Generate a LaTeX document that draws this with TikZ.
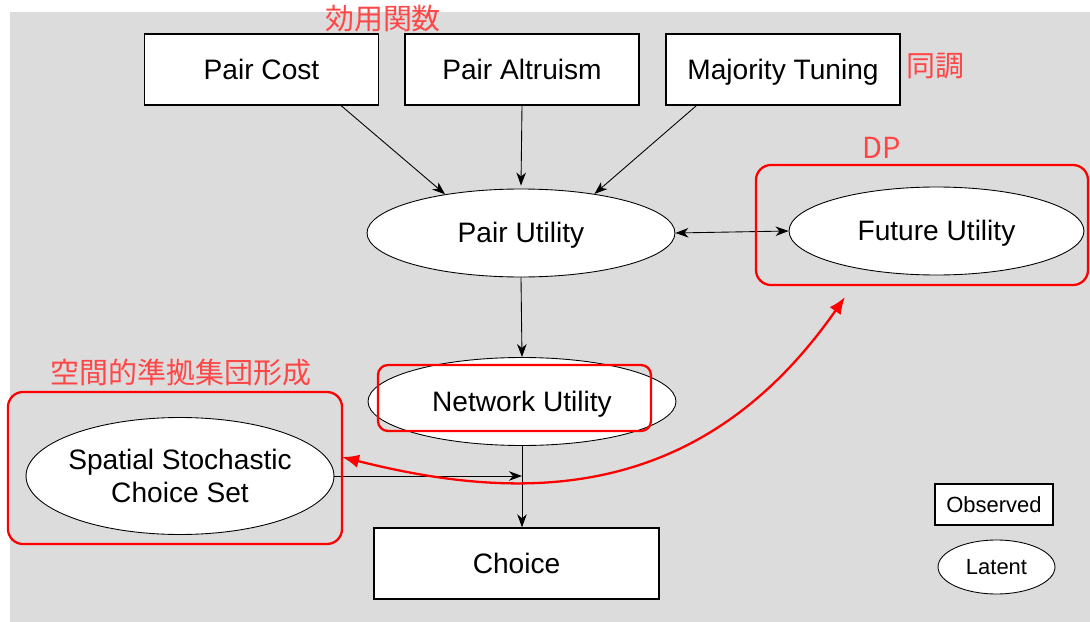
\documentclass[tikz,border=0pt]{standalone}
\usepackage{fontspec}
\setmainfont{Liberation Sans}
\newfontfamily\cjk{Noto Sans CJK JP}
\usetikzlibrary{shapes.geometric,arrows.meta}
\definecolor{bggray}{RGB}{220,220,220}
\definecolor{notered}{RGB}{255,70,70}

\begin{document}
\begin{tikzpicture}[x=0.02cm,y=-0.02cm,
        bigtext/.style={font=\fontsize{16}{19}\selectfont, text height=14.5pt, text depth=3.4pt},
        smalltext/.style={font=\fontsize{12.5}{15}\selectfont, text height=11.3pt, text depth=2.6pt},
        obsbox/.style={draw, fill=white, line width=0.8pt, inner sep=0pt,
            minimum width=4.68cm, minimum height=1.42cm, bigtext},
        latentnode/.style={draw, fill=white, ellipse, line width=0.5pt, inner sep=0pt,
            minimum width=6.16cm, minimum height=1.76cm, bigtext},
        redbox/.style={draw=red, line width=1.3pt, rounded corners=0.3cm},
        redlabel/.style={text=notered, font=\cjk\fontsize{16.5}{20}\selectfont},
        link/.style={-{Stealth[length=0.26cm,width=0.19cm,inset=0.08cm]}, line width=0.5pt},
        redlink/.style={{Latex[length=0.34cm,width=0.27cm]}-{Latex[length=0.34cm,width=0.27cm]}, draw=red, line width=1.3pt}
    ]
        \useasboundingbox (0,0) rectangle (1090,622);
        % grey background
        \fill[bggray] (10,12) rectangle (1090,622);

        % observed inputs
        \node[obsbox] (paircost) at (261.5,69.5) {Pair Cost};
        \node[obsbox] (pairaltruism) at (522,69.5) {Pair Altruism};
        \node[obsbox] (majoritytuning) at (783,69.5) {Majority Tuning};

        % latent utilities
        \node[latentnode] (pairutility) at (521,233) {Pair Utility};
        \node[latentnode, minimum width=5.9cm] (futureutility) at (936.5,231) {Future Utility};
        \node[latentnode] (networkutility) at (522,401.5) {Network Utility};
        \node[latentnode, minimum height=2.34cm, inner xsep=-0.07cm, align=center,
            text height=, text depth=] (spatialset) at (180,476) {Spatial Stochastic\\Choice Set};
        \node[obsbox, minimum width=5.7cm] (choice) at (516.5,563.5) {Choice};

        % legend
        \node[obsbox, minimum width=2.36cm, minimum height=0.82cm, smalltext] (observed) at (994,504.5) {Observed};
        \node[latentnode, minimum width=2.34cm, minimum height=1.08cm, smalltext] (latent) at (996.5,567) {Latent};

        % connectors
        \draw[link] ([xshift=-0.76cm]paircost.south east) -- (pairutility.153);
        \draw[link] (pairaltruism.south) -- ([yshift=0.06cm]pairutility.north);
        \draw[link] ([xshift=0.62cm]majoritytuning.south west) -- (pairutility.28);
        \draw[link, {Stealth[length=0.26cm,width=0.19cm,inset=0.08cm]}-{Stealth[length=0.26cm,width=0.19cm,inset=0.08cm]}] (pairutility.east) -- (futureutility.west);
        \draw[link] (pairutility.south) -- (networkutility.north);
        \draw[link] (networkutility.south) -- (networkutility.south |- choice.north);
        \coordinate (join) at (networkutility.south |- spatialset.east);
        \draw[link] (spatialset.east) -- (join);

        % red highlights
        \draw[redbox] (756,165) rectangle (1088,285);
        \draw[redbox, rounded corners=0.2cm] (378,365) rectangle (651,431);
        \draw[redbox] (8,392) rectangle (342,544);
        \node[redlabel] (utilitylabel) at (383,19) {効用関数};
        \node[redlabel] (conformlabel) at (935,66) {同調};
        \node[redlabel] (dplabel) at (882,148) {DP};
        \node[redlabel] (spatiallabel) at (181,373) {空間的準拠集団形成};

        % red two-way arrow
        \coordinate (redstart) at (342,457);
        \coordinate (redend) at (845,297);
        \draw[redlink] (redstart) .. controls (520,502) and (700,505) .. (redend);
    \end{tikzpicture}
\end{document}
